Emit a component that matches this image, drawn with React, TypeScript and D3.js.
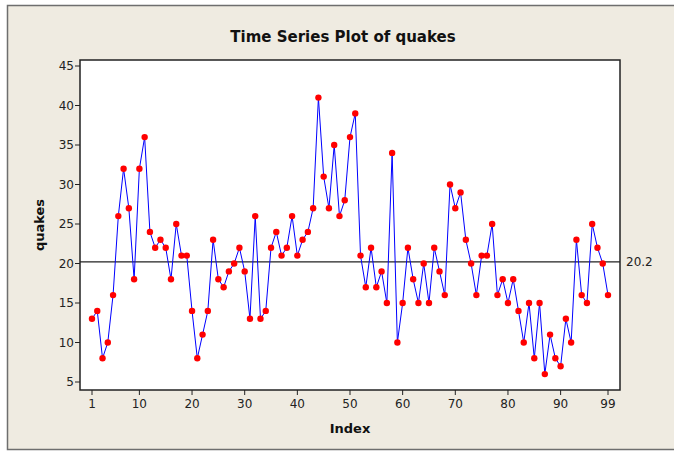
import React, { useEffect, useRef } from "react";
import * as d3 from "d3";

// annual counts of major earthquakes (index 1..99)
const quakes = [
  13, 14, 8, 10, 16, 26, 32, 27, 18, 32, 36, 24, 22, 23, 22, 18, 25, 21, 21, 14,
  8, 11, 14, 23, 18, 17, 19, 20, 22, 19, 13, 26, 13, 14, 22, 24, 21, 22, 26, 21,
  23, 24, 27, 41, 31, 27, 35, 26, 28, 36, 39, 21, 17, 22, 17, 19, 15, 34, 10, 15,
  22, 18, 15, 20, 15, 22, 19, 16, 30, 27, 29, 23, 20, 16, 21, 21, 25, 16, 18, 15,
  18, 14, 10, 15, 8, 15, 6, 11, 8, 7, 13, 10, 23, 16, 15, 25, 22, 20, 16,
];
const xTicks = [1, 10, 20, 30, 40, 50, 60, 70, 80, 90, 99];
const yTicks = [5, 10, 15, 20, 25, 30, 35, 40, 45];
const meanValue = 20.2;

const W = 674;
const H = 453;
const plot = { left: 80, top: 60, right: 620, bottom: 390 };
const font = "Tahoma, 'DejaVu Sans', sans-serif";

const App = () => {
  const ref = useRef<SVGSVGElement>(null);

  useEffect(() => {
    const svg = d3.select(ref.current);
    svg.selectAll("*").remove();

    // background + outer frame
    svg.append("rect").attr("width", W).attr("height", H).attr("fill", "#ffffff");
    svg
      .append("rect")
      .attr("x", 7.5)
      .attr("y", 5.5)
      .attr("width", W)
      .attr("height", 444)
      .attr("fill", "#efebe1")
      .attr("stroke", "#6e6e6e")
      .attr("stroke-width", 1.5);

    const x = d3.scaleLinear().domain([1, 99]).range([92, 608]);
    const y = d3.scaleLinear().domain([5, 45]).range([382, 66]);

    svg
      .append("rect")
      .attr("x", plot.left)
      .attr("y", plot.top)
      .attr("width", plot.right - plot.left)
      .attr("height", plot.bottom - plot.top)
      .attr("fill", "#fff")
      .attr("stroke", "#222")
      .attr("stroke-width", 1.5);

    // title
    svg
      .append("text")
      .attr("x", 343)
      .attr("y", 42)
      .attr("text-anchor", "middle")
      .attr("font-family", font)
      .attr("font-weight", "bold")
      .attr("font-size", 15)
      .attr("fill", "#111")
      .text("Time Series Plot of quakes");

    // y axis
    const yAxis = svg.append("g");
    yAxis
      .selectAll("line")
      .data(yTicks)
      .enter()
      .append("line")
      .attr("x1", plot.left - 5)
      .attr("x2", plot.left)
      .attr("y1", (d) => y(d))
      .attr("y2", (d) => y(d))
      .attr("stroke", "#222");
    yAxis
      .selectAll("text")
      .data(yTicks)
      .enter()
      .append("text")
      .attr("x", plot.left - 6)
      .attr("y", (d) => y(d) + 4)
      .attr("text-anchor", "end")
      .attr("font-family", font)
      .attr("font-size", 12)
      .attr("fill", "#222")
      .text((d) => d);

    // x axis
    const xAxis = svg.append("g");
    xAxis
      .selectAll("line")
      .data(xTicks)
      .enter()
      .append("line")
      .attr("x1", (d) => x(d))
      .attr("x2", (d) => x(d))
      .attr("y1", plot.bottom)
      .attr("y2", plot.bottom + 5)
      .attr("stroke", "#222");
    xAxis
      .selectAll("text")
      .data(xTicks)
      .enter()
      .append("text")
      .attr("x", (d) => x(d))
      .attr("y", plot.bottom + 18)
      .attr("text-anchor", "middle")
      .attr("font-family", font)
      .attr("font-size", 12)
      .attr("fill", "#222")
      .text((d) => d);

    // axis titles
    svg
      .append("text")
      .attr("x", 350)
      .attr("y", 433)
      .attr("text-anchor", "middle")
      .attr("font-family", font)
      .attr("font-weight", "bold")
      .attr("font-size", 13)
      .attr("fill", "#111")
      .text("Index");
    svg
      .append("text")
      .attr("transform", `translate(44, ${(plot.top + plot.bottom) / 2}) rotate(-90)`)
      .attr("text-anchor", "middle")
      .attr("font-family", font)
      .attr("font-weight", "bold")
      .attr("font-size", 13)
      .attr("fill", "#111")
      .text("quakes");

    // mean reference line
    svg
      .append("line")
      .attr("x1", plot.left)
      .attr("x2", plot.right)
      .attr("y1", y(meanValue))
      .attr("y2", y(meanValue))
      .attr("stroke", "#222")
      .attr("stroke-width", 1.2);
    svg
      .append("text")
      .attr("x", plot.right + 6)
      .attr("y", y(meanValue) + 4)
      .attr("font-family", font)
      .attr("font-size", 12)
      .attr("fill", "#222")
      .text(meanValue);

    // series
    const line = d3
      .line<number>()
      .x((_, i) => x(i + 1))
      .y((d) => y(d));
    svg
      .append("path")
      .datum(quakes)
      .attr("d", line)
      .attr("fill", "none")
      .attr("stroke", "#0000ff")
      .attr("stroke-width", 1);

    svg
      .selectAll(".pt")
      .data(quakes)
      .enter()
      .append("circle")
      .attr("class", "pt")
      .attr("cx", (_, i) => x(i + 1))
      .attr("cy", (d) => y(d))
      .attr("r", 3.2)
      .attr("fill", "#ff0000");
  }, []);

  return (
    <svg
      ref={ref}
      width={W}
      height={H}
      style={{ position: "absolute", left: 0, top: 0 }}
    />
  );
};

export default App;
